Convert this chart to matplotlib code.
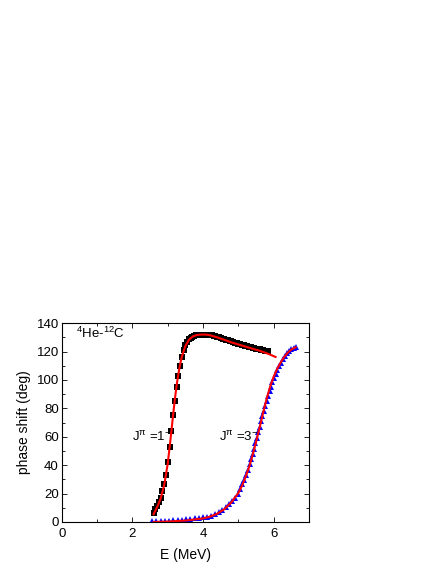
import numpy as np
import matplotlib
matplotlib.use("Agg")
from matplotlib import pyplot as plt
from matplotlib.ticker import MultipleLocator

plt.rcParams['font.family'] = ['Liberation Sans', 'DejaVu Sans']
plt.rcParams['mathtext.fontset'] = 'custom'
plt.rcParams['mathtext.rm'] = 'Liberation Sans'
plt.rcParams['mathtext.it'] = 'Liberation Sans'
plt.rcParams['mathtext.bf'] = 'Liberation Sans:bold'

# J = 1- data (squares)
e_1 = [2.60, 2.65, 2.70, 2.75, 2.80, 2.85, 2.90, 2.95, 3.00, 3.05,
       3.10, 3.15, 3.20, 3.25, 3.30, 3.35, 3.40, 3.45, 3.50, 3.55,
       3.60, 3.65, 3.70, 3.75, 3.80, 3.85, 3.90, 3.95, 4.00, 4.05,
       4.10, 4.15, 4.20, 4.25, 4.30, 4.35, 4.40, 4.45, 4.50, 4.55,
       4.60, 4.65, 4.70, 4.75, 4.80, 4.85, 4.90, 4.95, 5.00, 5.05,
       5.10, 5.15, 5.20, 5.25, 5.30, 5.35, 5.40, 5.45, 5.50, 5.55,
       5.60, 5.65, 5.70, 5.75, 5.80, 5.85]
phi_1 = [6.5, 9.0, 11.5, 14.0, 17.0, 22.0, 27.0, 33.0, 42.0, 53.0,
         64.0, 75.0, 85.0, 95.0, 103.0, 110.0, 116.0, 121.0, 124.5, 127.0,
         128.6, 129.7, 130.5, 131.0, 131.4, 131.6, 131.8, 131.9, 132.0, 132.0,
         131.9, 131.8, 131.6, 131.4, 131.1, 130.8, 130.5, 130.1, 129.6, 129.2,
         128.8, 128.4, 128.0, 127.5, 127.1, 126.7, 126.3, 126.0, 125.6, 125.2,
         124.8, 124.5, 124.1, 123.8, 123.4, 123.1, 122.8, 122.4, 122.1, 121.8,
         121.5, 121.2, 120.9, 120.7, 120.4, 120.2]

# J = 1- fit
e_fit1 = [2.60, 2.70, 2.80, 2.90, 3.00, 3.05, 3.10, 3.15, 3.20, 3.25,
          3.30, 3.35, 3.40, 3.50, 3.60, 3.70, 3.80, 3.90, 4.00, 4.10,
          4.20, 4.40, 4.60, 4.80, 5.00, 5.20, 5.40, 5.60, 5.80, 5.90, 6.05]
phi_fit1 = [5.5, 10.5, 16.5, 26.0, 41.0, 52.0, 63.0, 75.0, 86.0, 96.0,
            104.0, 111.0, 116.5, 124.0, 128.3, 130.5, 131.5, 131.9, 132.0, 131.9,
            131.5, 130.0, 128.3, 126.5, 125.0, 123.5, 122.0, 120.6, 118.8, 117.8, 116.2]

# J = 3- data (triangles)
e_3 = [2.56, 2.68, 2.80, 2.92, 3.04, 3.16, 3.28, 3.40, 3.52, 3.64,
       3.76, 3.88, 4.00, 4.11, 4.22, 4.33, 4.44, 4.54, 4.64, 4.73,
       4.82, 4.90, 4.98, 5.05, 5.11, 5.17, 5.22, 5.27, 5.32, 5.36,
       5.40, 5.44, 5.48, 5.52, 5.56, 5.60, 5.64, 5.68, 5.72, 5.76,
       5.80, 5.84, 5.88, 5.92, 5.96, 6.00, 6.05, 6.10, 6.15, 6.20,
       6.26, 6.32, 6.38, 6.44, 6.50, 6.56, 6.62]
phi_3 = [0.5, 0.6, 0.8, 0.9, 1.0, 1.2, 1.4, 1.6, 1.9, 2.2,
         2.5, 2.9, 3.3, 3.8, 4.3, 5.4, 6.9, 8.6, 10.6, 12.6,
         14.8, 17.2, 20.0, 23.2, 26.5, 29.8, 33.2, 36.8, 40.5, 44.0,
         47.8, 51.6, 55.5, 59.4, 63.3, 67.2, 71.0, 74.5, 78.0, 81.5,
         85.0, 88.5, 92.0, 95.3, 98.4, 101.2, 104.2, 107.0, 109.7, 112.2,
         114.6, 116.9, 118.8, 120.3, 121.5, 122.4, 123.0]

# J = 3- fit
e_fit3 = [2.60, 3.00, 3.50, 4.00, 4.20, 4.40, 4.60, 4.80, 5.00, 5.10,
          5.20, 5.30, 5.40, 5.50, 5.60, 5.70, 5.80, 5.90, 6.00, 6.10,
          6.20, 6.30, 6.40, 6.50, 6.62]
phi_fit3 = [0.0, 0.3, 1.0, 2.5, 3.8, 5.8, 9.0, 13.8, 20.5, 25.5,
            31.5, 38.5, 47.0, 56.5, 66.5, 77.0, 87.0, 95.5, 102.5, 108.0,
            112.5, 116.3, 119.3, 121.5, 123.0]

fig = plt.figure(figsize=(4.36, 5.64), dpi=100)
ax = fig.add_axes([0.1415, 0.0745, 0.5675, 0.3525])

ax.plot(e_1, phi_1, "s", color="black", markersize=3.8, markeredgewidth=0)
ax.plot(e_3, phi_3, "^", color="blue", markersize=4.5, markeredgewidth=0)
ax.plot(e_fit1, phi_fit1, "-", color="red", linewidth=1.5)
ax.plot(e_fit3, phi_fit3, "-", color="red", linewidth=1.5)

ax.set_xlim(0, 7)
ax.set_ylim(0, 140)
ax.xaxis.set_major_locator(MultipleLocator(2))
ax.xaxis.set_minor_locator(MultipleLocator(1))
ax.yaxis.set_major_locator(MultipleLocator(20))
ax.yaxis.set_minor_locator(MultipleLocator(10))
ax.tick_params(which="both", direction="in", top=True, right=True, labelsize=9.5)
ax.tick_params(axis="x", pad=4)
ax.tick_params(axis="y", pad=2)
ax.tick_params(which="major", length=3.5, width=0.6)
ax.tick_params(which="minor", length=2, width=0.6)
for s in ax.spines.values():
    s.set_linewidth(0.8)

ax.set_xlabel("E (MeV)", fontsize=10, labelpad=6)
ax.set_ylabel("phase shift (deg)", fontsize=10, labelpad=4)

ax.text(0.4, 133, r"$^{4}$He-$^{12}$C", fontsize=9.5, va="center")
ax.text(2.0, 60, r"J$^{\pi}$ =1$^{-}$", fontsize=9.5, va="center")
ax.text(4.45, 60, r"J$^{\pi}$ =3$^{-}$", fontsize=9.5, va="center")

fig.savefig("out.png", dpi=100)
